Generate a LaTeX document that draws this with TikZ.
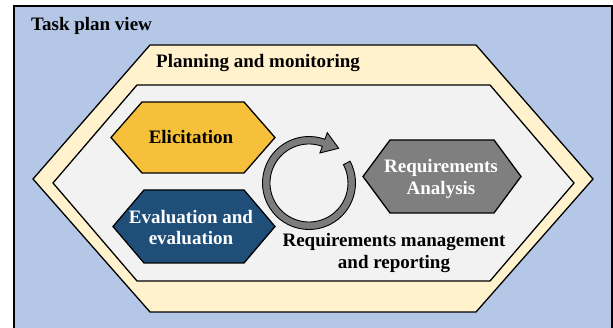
\documentclass[tikz,border=0pt]{standalone}
\usepackage{fontspec}
\setmainfont{Liberation Serif}
\usetikzlibrary{calc}

\definecolor{viewblue}{HTML}{B4C7E7}
\definecolor{planband}{HTML}{FFF2CC}
\definecolor{coreband}{HTML}{F2F2F2}
\definecolor{elicyellow}{HTML}{F6C03A}
\definecolor{evalblue}{HTML}{1F4E79}
\definecolor{anagray}{HTML}{7F7F7F}
\definecolor{cyclegray}{HTML}{7C7C7C}

\tikzset{
  hexline/.style={draw=black, line width=1.3, line join=miter},
  lbl/.style={font=\bfseries\fontsize{19}{21.5}\selectfont, inner sep=0, align=center},
}

\begin{document}
\begin{tikzpicture}[x=1pt, y=-1pt]
  \useasboundingbox (0,0) rectangle (613,328);

  % outer view frame
  \filldraw[fill=viewblue, draw=black, line width=1.8] (14,6) rectangle (612,345);
  \node[lbl, anchor=base west] (view) at (31,31) {Task plan view};

  % planning and monitoring band
  \path[hexline, fill=planband]
    (33,179) -- (150,45) -- (476,45) -- (593,179) -- (476,312) -- (150,312) -- cycle;
  \node[lbl, anchor=base west] (plan) at (156,68) {Planning and monitoring};

  % inner area
  \path[hexline, fill=coreband]
    (53,183) -- (137,85) -- (490,85) -- (574,183) -- (490,281) -- (137,281) -- cycle;

  % activity hexagons
  \path[hexline, fill=elicyellow]
    (111,137.5) -- (142,102) -- (244,102) -- (275,137.5) -- (244,173) -- (142,173) -- cycle;
  \node[lbl] (elic) at (191,137.5) {Elicitation};

  \path[hexline, fill=evalblue]
    (113,226.5) -- (144,190) -- (244,190) -- (275,226.5) -- (244,263) -- (144,263) -- cycle;
  \node[lbl, text=white] (eval) at (191,227.5) {Evaluation and\\evaluation};

  \path[hexline, fill=anagray]
    (363,176.5) -- (390,140) -- (494,140) -- (521,176.5) -- (494,213) -- (390,213) -- cycle;
  \node[lbl, text=white] (ana) at (441,179) {Requirements\\Analysis};

  % management cycle arrow
  \coordinate (cyc) at (309,183);
  \filldraw[fill=cyclegray, draw=black, line width=0.9, line join=miter]
    ($(cyc)+(-28:46.5)$) arc[start angle=-28, end angle=290, radius=46.5]
    -- ($(cyc)+(290:53.5)$)
    -- ($(cyc)+(290:42.75)+(20:16)$)
    -- ($(cyc)+(290:32)$)
    -- ($(cyc)+(290:39)$) arc[start angle=290, end angle=-28, radius=39]
    -- cycle;

  \node[lbl] (mgmt) at (394,253) {Requirements management\\and reporting};
\end{tikzpicture}
\end{document}
